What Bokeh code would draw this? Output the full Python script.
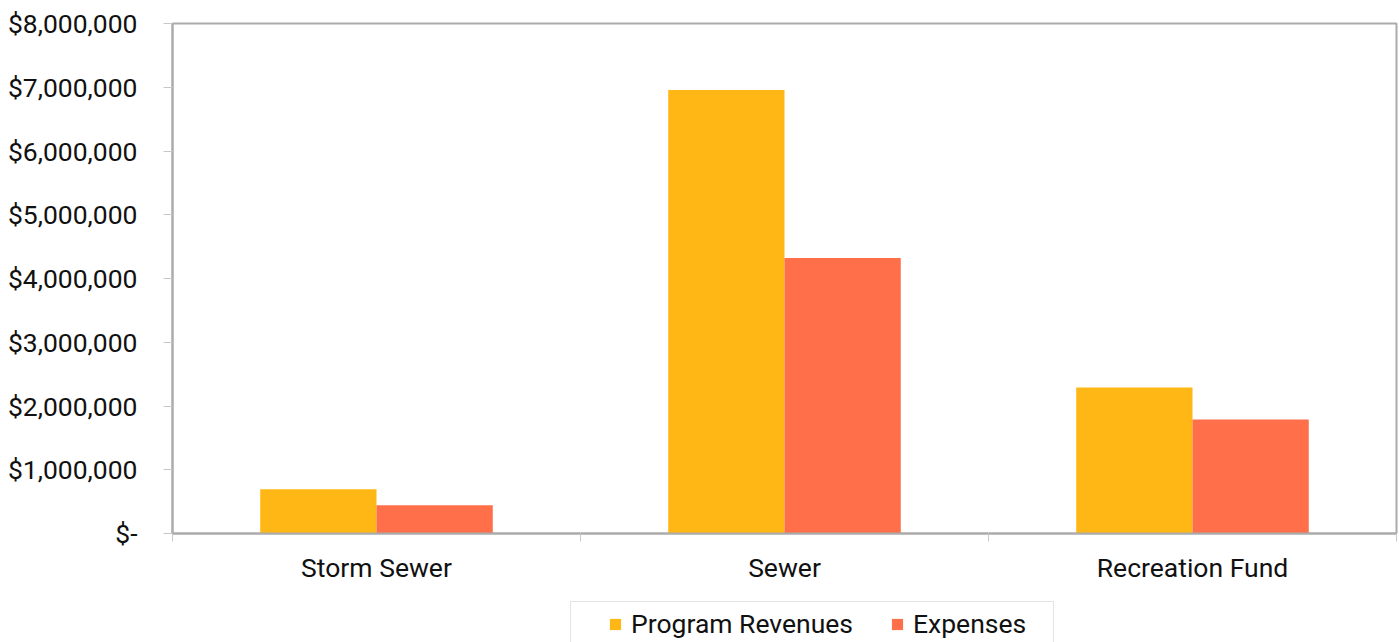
from bokeh.plotting import figure
from bokeh.models import Range1d, FixedTicker, ColumnDataSource, Legend, LegendItem
from bokeh.layouts import column
from bokeh.embed import file_html
from bokeh.resources import INLINE

categories = ["Storm Sewer", "Sewer", "Recreation Fund"]
program_revenues = [695000, 6955000, 2290000]
expenses = [445000, 4320000, 1790000]
y_ticks = [0, 1000000, 2000000, 3000000, 4000000, 5000000, 6000000, 7000000, 8000000]
y_tick_labels = ["$-", "$1,000,000", "$2,000,000", "$3,000,000", "$4,000,000",
                 "$5,000,000", "$6,000,000", "$7,000,000", "$8,000,000"]
series_names = ["Program Revenues", "Expenses"]

FONT = "Roboto"
FS = "26.5px"
REV_COLOR = "#FFB715"
EXP_COLOR = "#FF6F4A"
GRAY = "#ABABAB"
TXT = "#111111"

n = len(categories)
centers = [i + 0.5 for i in range(n)]
bw = 0.285
src = ColumnDataSource(dict(
    x_rev=[c - bw / 2 for c in centers],
    x_exp=[c + bw / 2 for c in centers],
    rev=program_revenues,
    exp=expenses,
))

# ---- main chart ----
p = figure(width=1399, height=600, output_backend="svg", toolbar_location=None,
           x_range=Range1d(0, n), y_range=Range1d(y_ticks[0], y_ticks[-1]),
           min_border_left=172, min_border_right=3, min_border_top=23, min_border_bottom=67)
p.xgrid.visible = False
p.ygrid.visible = False
p.outline_line_color = GRAY
p.outline_line_width = 2
p.background_fill_color = "white"
p.border_fill_color = "white"

p.vbar(x="x_rev", top="rev", width=bw, source=src, fill_color=REV_COLOR, line_color=None)
p.vbar(x="x_exp", top="exp", width=bw, source=src, fill_color=EXP_COLOR, line_color=None)

ya = p.yaxis[0]
ya.ticker = FixedTicker(ticks=y_ticks, minor_ticks=[])
ya.major_label_overrides = {t: l for t, l in zip(y_ticks, y_tick_labels)}
ya.axis_line_color = GRAY
ya.axis_line_width = 2
ya.major_tick_line_color = "#C8C8C8"
ya.major_tick_line_width = 1
ya.major_tick_out = 9
ya.major_tick_in = 0
ya.minor_tick_line_color = None
ya.major_label_standoff = 26
ya.major_label_text_font = FONT
ya.major_label_text_font_size = FS
ya.major_label_text_color = TXT

xa = p.xaxis[0]
xa.ticker = FixedTicker(ticks=centers, minor_ticks=[float(i) for i in range(n + 1)])
xa.major_label_overrides = {c: name for c, name in zip(centers, categories)}
xa.axis_line_color = GRAY
xa.axis_line_width = 2
xa.major_tick_line_color = None
xa.major_tick_out = 0
xa.major_tick_in = 0
xa.minor_tick_line_color = "#C8C8C8"
xa.minor_tick_line_width = 1
xa.minor_tick_out = 8
xa.minor_tick_in = 0
xa.major_label_standoff = 10
xa.major_label_text_font = FONT
xa.major_label_text_font_size = FS
xa.major_label_text_color = TXT

# ---- legend strip (its renderers are hidden; only the legend shows) ----
q = figure(width=1399, height=42, output_backend="svg", toolbar_location=None,
           x_range=Range1d(0, n), y_range=Range1d(y_ticks[0], y_ticks[-1]),
           x_axis_location=None, y_axis_location=None,
           min_border_left=0, min_border_right=0, min_border_top=0, min_border_bottom=0)
q.xgrid.visible = False
q.ygrid.visible = False
q.outline_line_color = None
q.background_fill_color = "white"
q.border_fill_color = "white"
l1 = q.vbar(x="x_rev", top="rev", width=bw, source=src, fill_color=REV_COLOR, line_color=None)
l2 = q.vbar(x="x_exp", top="exp", width=bw, source=src, fill_color=EXP_COLOR, line_color=None)
l1.visible = False
l2.visible = False

legend = Legend(items=[LegendItem(label=series_names[0], renderers=[l1]),
                       LegendItem(label=series_names[1], renderers=[l2])],
                orientation="horizontal", location=(398, -4),
                title=" ", title_location="left", title_standoff=0,
                title_text_font=FONT, title_text_font_size=FS,
                label_text_font=FONT, label_text_font_size=FS, label_text_color=TXT,
                glyph_width=14, glyph_height=14, label_standoff=9, spacing=37,
                label_width=134, inactive_fill_alpha=0.0,
                padding=6, margin=0, border_line_color="#C8C8C8", border_line_width=1,
                background_fill_color="white", background_fill_alpha=1.0)
q.add_layout(legend, "center")

layout = column(p, q, spacing=0)
open("out.html", "w").write(file_html(layout, INLINE))
